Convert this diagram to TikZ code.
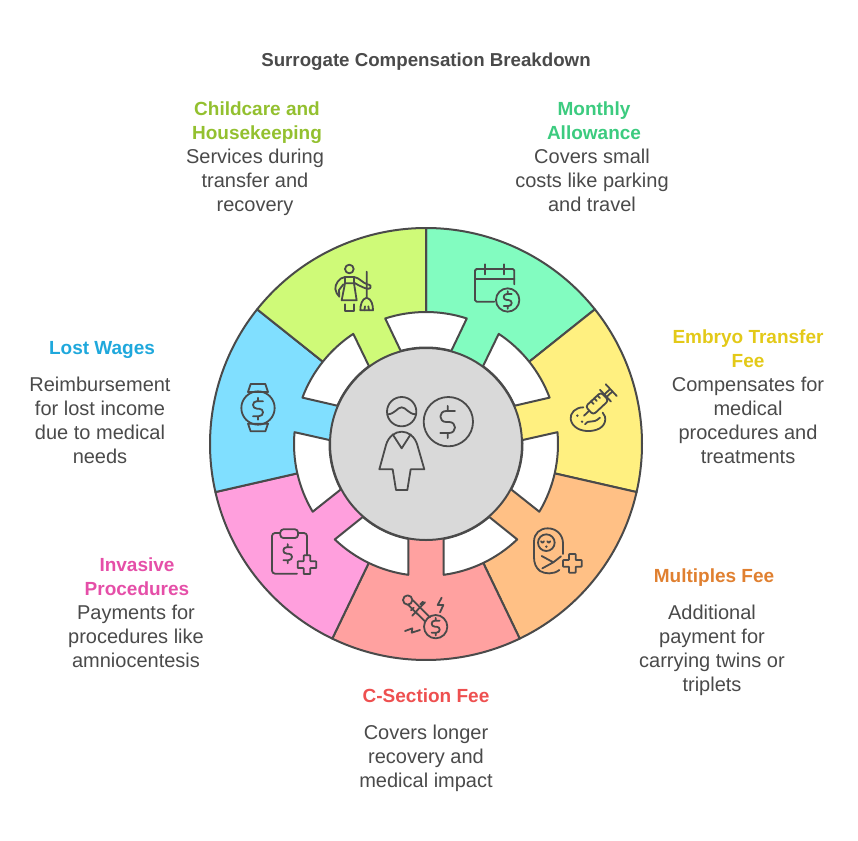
\documentclass[tikz,border=0pt]{standalone}
\usepackage{fontspec}
\setmainfont{Liberation Sans}
\definecolor{ink}{HTML}{4A4A4A}
\definecolor{secMint}{HTML}{82FCC0}
\definecolor{secYellow}{HTML}{FFF080}
\definecolor{secOrange}{HTML}{FFC085}
\definecolor{secSalmon}{HTML}{FFA1A0}
\definecolor{secPink}{HTML}{FF9FDD}
\definecolor{secBlue}{HTML}{80DFFF}
\definecolor{secLime}{HTML}{CFFA78}
\definecolor{hubGrey}{HTML}{D9D9D9}
\definecolor{tMint}{HTML}{3CCB7F}
\definecolor{tYellow}{HTML}{E3C918}
\definecolor{tOrange}{HTML}{E08030}
\definecolor{tSalmon}{HTML}{EE5050}
\definecolor{tPink}{HTML}{E54FA8}
\definecolor{tBlue}{HTML}{1FA8DC}
\definecolor{tLime}{HTML}{93C02F}
\newcommand{\dolIcon}[3]{%
  \draw[icon,shift={(#1,#2)},scale=#3] (1,-1.5) -- (-.2,-1.5) .. controls (-.7,-1.5) and (-1,-1.15) .. (-1,-.75)
    .. controls (-1,-.35) and (-.7,0) .. (-.2,0) -- (.2,0) .. controls (.7,0) and (1,.35) .. (1,.75)
    .. controls (1,1.15) and (.7,1.5) .. (.2,1.5) -- (-1,1.5) (0,-2.2) -- (0,-1.5) (0,1.5) -- (0,2.2);}
\newcommand{\plusIcon}[4]{%
  \draw[icon,rounded corners=.6pt,shift={(#1,#2)}] (-#4,-#3) -- (#4,-#3) -- (#4,-#4) -- (#3,-#4) -- (#3,#4) -- (#4,#4) -- (#4,#3)
    -- (-#4,#3) -- (-#4,#4) -- (-#3,#4) -- (-#3,-#4) -- (-#4,-#4) -- cycle;}
\tikzset{
  x=1pt,y=-1pt,
  icon/.style={draw=ink,line width=1.8pt,line cap=round,line join=round},
  sector/.style={draw=ink,line width=2pt,line join=round},
  notch/.style={draw=ink,fill=white,line width=2pt,line join=round},
  txt/.style={font=\fontsize{20}{24}\selectfont,text=ink,align=center,inner sep=0pt,yshift=-2pt,
    execute at begin node=\strut,execute at end node=\strut},
  head/.style={font=\fontsize{19}{24}\selectfont\bfseries,align=center,inner sep=0pt,yshift=-2pt,
    execute at begin node=\strut,execute at end node=\strut},
}
\begin{document}
\begin{tikzpicture}
\useasboundingbox (0,0) rectangle (858,840);
\coordinate (c) at (426,444);
% sectors
\begin{scope}[shift={(c)}]
\foreach \a/\col in {90/secMint,38.571/secYellow,-12.857/secOrange,-64.286/secSalmon,-115.714/secPink,-167.143/secBlue,141.429/secLime}{
  \filldraw[sector,fill=\col] (0pt,0pt) -- (\a:216pt) arc[start angle=\a,delta angle=-51.429,radius=216pt] -- cycle;
}
\foreach \a in {90,38.571,-12.857,-64.286,-115.714,-167.143,141.429}{
  \filldraw[notch] ({\a+15.2}:96.5pt) -- ({\a+18}:132pt) arc[start angle={\a+18},delta angle=-36,radius=132pt]
    -- ({\a-15.2}:96.5pt) arc[start angle={\a-15.2},delta angle=30.4,radius=96.5pt] -- cycle;
}
\filldraw[sector,fill=hubGrey] (0pt,0pt) circle[radius=96pt];
\end{scope}
% hub icon
\begin{scope}[shift={(370,390)},scale=1/3]
\draw[icon] (95,65) circle (44);
\draw[icon] (53,73) .. controls (75,72) and (82,52) .. (95,52) .. controls (108,52) and (115,72) .. (137,73);
\draw[icon] (235,95) circle (74);
\dolIcon{233}{96}{22}
\draw[icon] (28,238) -- (48,165) .. controls (55,140) and (75,125) .. (95,125) .. controls (115,125) and (135,140) .. (142,165)
  -- (163,238) -- (122,238) -- (112,300) -- (78,300) -- (68,238) -- cycle;
\draw[icon] (68,133) -- (95,175) -- (122,133);
\end{scope}
% childcare
\begin{scope}[shift={(325,255)},scale=1/3]
\draw[icon] (73,42) circle (13);
\draw[icon] (60,85) -- (50,136) -- (95,136) -- (87,85) -- cycle (60,85) -- (60,66) (87,85) -- (87,66) (60,66) -- (87,66);
\draw[icon] (87,66) .. controls (103,68) and (110,82) .. (127,88) .. controls (136,89) and (140,94) .. (136,99) .. controls (132,103) and (122,101) .. (112,96) .. controls (102,92) and (96,88) .. (89,84);
\draw[icon] (60,66) .. controls (42,68) and (30,88) .. (31,102) .. controls (32,112) and (38,120) .. (43,125) -- (42,105) -- (55,88);
\draw[icon] (60,148) -- (60,168) -- (87,168) -- (87,148);
\draw[icon] (125,50) -- (125,128) .. controls (110,132) and (106,150) .. (106,166) -- (144,166) .. controls (144,150) and (140,132) .. (125,128);
\draw[icon] (118,166) -- (120,154) (132,166) -- (130,154);
\end{scope}
% calendar
\begin{scope}[shift={(465,255)},scale=1/3]
\draw[icon,rounded corners=1.5pt] (88,140) -- (30,140) -- (30,42) -- (148,42) -- (148,88);
\draw[icon] (30,72) -- (148,72) (60,28) -- (60,58) (118,28) -- (118,58);
\draw[icon] (128,135) circle (35);
\dolIcon{128}{135}{12}
\end{scope}
% syringe
\begin{scope}[shift={(560,375)},scale=1/3]
\draw[icon] (70,97) .. controls (45,97) and (30,115) .. (32,132) .. controls (35,155) and (60,170) .. (90,168)
  .. controls (120,166) and (140,150) .. (135,125) .. controls (134,120) and (132,117) .. (128,113);
\fill[ink] (52,122) circle (4) (66,140) circle (4);
\draw[icon] (75,148) .. controls (90,130) and (95,150) .. (120,128);
\begin{scope}[shift={(72,122)},rotate=43]
\draw[icon] (0,0) -- (22,0);
\draw[icon,rounded corners=3pt] (22,-17) rectangle (85,17);
\draw[icon] (88,-24) -- (88,24) (112,-24) -- (112,24) (88,-5) -- (112,-5) (88,5) -- (112,5);
\draw[icon] (45,-17) -- (45,-6) (58,-17) -- (58,-6) (71,-17) -- (71,-6);
\end{scope}
\end{scope}
% baby
\begin{scope}[shift={(525,520)},scale=1/3]
\draw[icon] (103,150) .. controls (85,164) and (60,162) .. (45,153) .. controls (32,143) and (27,128) .. (27,112) -- (27,65)
  .. controls (27,40) and (45,25) .. (68,25) .. controls (95,25) and (114,45) .. (114,70) -- (114,102);
\draw[icon] (64,68) circle (25);
\draw[icon] (48,64) arc[start angle=180,end angle=0,radius=4.5] (67,64) arc[start angle=180,end angle=0,radius=4.5];
\fill[ink] (64,80) circle (4);
\draw[icon] (50,108) -- (85,127) -- (108,109) (85,127) -- (52,145);
\plusIcon{142}{130}{28}{10}
\end{scope}
% c-section
\begin{scope}[shift={(395,585)},scale=1/3]
\draw[icon] (122,125) circle (35);
\dolIcon{122}{125}{12}
\draw[icon] (38,45) circle (14);
\draw[icon] (54,46) -- (105,97) (40,60) -- (91,110);
\draw[icon] (52,92) -- (72,70) -- (90,52) (48,76) -- (56,68) (76,58) -- (84,50);
\draw[icon] (140,38) -- (128,60) -- (145,60) -- (135,82);
\draw[icon] (30,138) -- (52,130) -- (50,143) -- (75,135);
\end{scope}
% clipboard
\begin{scope}[shift={(262,522)},scale=1/3]
\draw[icon,rounded corners=3pt] (55,22) rectangle (108,48);
\draw[icon,rounded corners=3pt] (55,33) -- (30,33) -- (30,155) -- (105,155);
\draw[icon,rounded corners=3pt] (108,33) -- (135,33) -- (135,100);
\dolIcon{77}{95}{13}
\plusIcon{135}{128}{28}{10}
\end{scope}
% watch
\begin{scope}[shift={(228,378)},scale=1/3]
\draw[icon] (90,90) circle (50);
\dolIcon{90}{92}{15}
\draw[icon] (60,42) -- (68,18) -- (112,18) -- (120,42) -- cycle;
\draw[icon] (60,137) -- (68,160) -- (112,160) -- (120,137) -- cycle;
\end{scope}
% texts
\node[font=\fontsize{18.7}{24}\selectfont\bfseries,text=ink,inner sep=0pt,yshift=-2pt] (title) at (426,60) {\strut Surrogate Compensation Breakdown};
\node[head,text=tLime] (h1) at (257,122) {Childcare and\\Housekeeping};
\node[txt] (b1) at (255,182) {Services during\\transfer and\\recovery};
\node[head,text=tMint] (h2) at (594,122) {Monthly\\Allowance};
\node[txt] (b2) at (592,182) {Covers small\\costs like parking\\and travel};
\node[head,text=tYellow] (h3) at (748,350) {Embryo Transfer\\Fee};
\node[txt] (b3) at (748,422) {Compensates for\\medical\\procedures and\\treatments};
\node[head,text=tOrange] (h4) at (714,576) {Multiples Fee};
\node[txt] (b4) at (712,650) {Additional\\payment for\\carrying twins or\\triplets};
\node[head,text=tSalmon] (h5) at (426,696) {C-Section Fee};
\node[txt] (b5) at (426,758) {Covers longer\\recovery and\\medical impact};
\node[head,text=tPink] (h6) at (137,578) {Invasive\\Procedures};
\node[txt] (b6) at (136,638) {Payments for\\procedures like\\amniocentesis};
\node[head,text=tBlue] (h7) at (102,348) {Lost Wages};
\node[txt] (b7) at (100,422) {Reimbursement\\for lost income\\due to medical\\needs};
\end{tikzpicture}
\end{document}
